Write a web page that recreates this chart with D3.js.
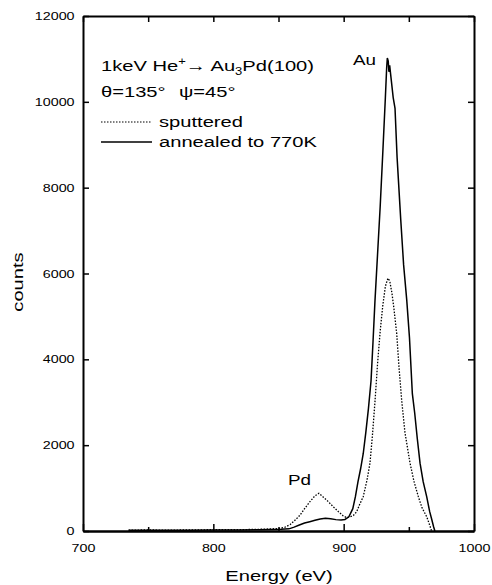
<!DOCTYPE html>
<html>
<head>
<meta charset="utf-8">
<script src="https://cdnjs.cloudflare.com/ajax/libs/d3/7.8.5/d3.min.js"></script>
<style>
  body { margin: 0; background: #fff; }
  svg { font-family: "Liberation Sans", Arial, sans-serif; }
  .axis path, .axis line { stroke: #000; }
  .axis path { stroke-width: 2; }
  .axis line { stroke-width: 1.5; }
  .axis text { font-size: 11px; fill: #000; }
</style>
</head>
<body>
<svg width="492" height="585"></svg>
<script>
// energy (eV) / counts
var annealedE = [735, 750, 765, 780, 800, 820, 835, 845, 852, 858, 862, 866, 870, 874, 878, 882, 886, 890, 894, 898, 901, 904, 907, 909, 911, 913, 915, 917, 919, 921, 922.5, 924, 926, 928, 930, 932, 933, 933.5, 934.2, 934.7, 935.3, 936, 938, 939.4, 941, 943.8, 946, 948.4, 950.5, 952.7, 954.5, 956.5, 958.6, 961, 963.7, 966, 967.5, 969, 970];
var annealedC = [15, 20, 15, 20, 25, 25, 30, 35, 40, 50, 90, 140, 185, 217, 250, 280, 296, 285, 265, 258, 270, 330, 520, 800, 1150, 1450, 1800, 2300, 2850, 3500, 4400, 5350, 6450, 7550, 8800, 10100, 10800, 11020, 10950, 10700, 10850, 10650, 10100, 9850, 8700, 7250, 6200, 5380, 4500, 3200, 2750, 2150, 1580, 1150, 800, 450, 280, 100, 0];

var sputteredE = [735, 750, 765, 780, 800, 820, 835, 845, 851, 855, 859, 863, 866.5, 870, 874, 878, 881, 884, 888, 892, 896, 899.7, 902, 905, 907.4, 910, 912, 915, 918, 920.2, 922, 924, 926, 928, 930, 932, 933.5, 934.3, 935.5, 937, 938.5, 940.7, 942.5, 944.5, 947, 950.9, 954, 957.3, 960, 963.7, 965.5, 967.5];
var sputteredC = [20, 25, 20, 25, 30, 30, 40, 50, 60, 90, 150, 260, 370, 520, 680, 820, 878, 800, 690, 566, 450, 350, 315, 330, 360, 450, 600, 800, 1200, 1584, 2200, 3000, 3900, 4650, 5250, 5700, 5850, 5890, 5800, 5550, 5200, 4600, 3800, 3050, 2300, 1584, 1150, 800, 550, 333, 180, 0];

var xTicks = [700, 800, 900, 1000];
var xMinor = [750, 850, 950];
var yTicks = [0, 2000, 4000, 6000, 8000, 10000, 12000];

var svg = d3.select("svg");
var mLeft = 83, mRight = 474, mTop = 16, mBottom = 531;
var stretch = 1.3; // the original lettering is wide

var x = d3.scaleLinear().domain([700, 1000]).range([mLeft, mRight]);
var y = d3.scaleLinear().domain([0, 12000]).range([mBottom, mTop]);

function wide(sel) {
    sel.selectAll(".tick text").attr("transform", "scale(" + stretch + ",1)");
}

// axes, ticks pointing inward
svg.append("g").attr("class", "axis")
    .attr("transform", "translate(0," + mBottom + ")")
    .call(d3.axisBottom(x).tickValues(xTicks).tickFormat(d3.format("d")).tickSizeInner(-7).tickSizeOuter(0).tickPadding(13))
    .call(wide);
svg.append("g").attr("class", "axis")
    .attr("transform", "translate(0," + mBottom + ")")
    .call(d3.axisBottom(x).tickValues(xMinor).tickFormat("").tickSizeInner(-4).tickSizeOuter(0));
svg.append("g").attr("class", "axis")
    .attr("transform", "translate(0," + mTop + ")")
    .call(d3.axisTop(x).tickValues(xTicks.concat(xMinor)).tickFormat("").tickSizeInner(-6).tickSizeOuter(0));
svg.append("g").attr("class", "axis")
    .attr("transform", "translate(" + mLeft + ",0)")
    .call(d3.axisLeft(y).tickValues(yTicks).tickFormat(d3.format("d")).tickSizeInner(-6).tickSizeOuter(0).tickPadding(6.5))
    .call(wide);
svg.append("g").attr("class", "axis")
    .attr("transform", "translate(" + mRight + ",0)")
    .call(d3.axisRight(y).tickValues(yTicks).tickFormat("").tickSizeInner(-6).tickSizeOuter(0));

// curves
var line = d3.line()
    .x(function(d) { return x(d[0]); })
    .y(function(d) { return y(d[1]); });

svg.append("path")
    .datum(d3.zip(sputteredE, sputteredC))
    .attr("d", line)
    .attr("fill", "none")
    .attr("stroke", "#000")
    .attr("stroke-width", 1.3)
    .attr("stroke-dasharray", "1.5,1.5");

svg.append("path")
    .datum(d3.zip(annealedE, annealedC))
    .attr("d", line)
    .attr("fill", "none")
    .attr("stroke", "#000")
    .attr("stroke-width", 1.5);

// text helper: wide lettering placed at x, y
function label(px, py, size, txt, anchor, rot) {
    var tr = "translate(" + px + "," + py + ")" + (rot ? " rotate(" + rot + ")" : "") + " scale(" + stretch + ",1)";
    return svg.append("text")
        .attr("transform", tr)
        .attr("font-size", size)
        .attr("text-anchor", anchor || "start")
        .text(txt);
}

// title lines
var t1 = label(101, 71, 15.5, "");
t1.append("tspan").text("1keV He");
t1.append("tspan").attr("font-size", 10).attr("dy", -6).text("+");
t1.append("tspan").attr("dy", 6).text("\u2192 Au");
t1.append("tspan").attr("font-size", 10).attr("dy", 4).text("3");
t1.append("tspan").attr("dy", -4).text("Pd(100)");

label(101, 97, 15.5, "\u03b8=135\u00b0");
label(179, 97, 15.5, "\u03c8=45\u00b0");

// legend
svg.append("line").attr("x1", 101).attr("x2", 152).attr("y1", 122).attr("y2", 122)
    .attr("stroke", "#000").attr("stroke-width", 1.2).attr("stroke-dasharray", "1.5,1.5");
label(159, 127, 15.5, "sputtered");
svg.append("line").attr("x1", 101).attr("x2", 152).attr("y1", 142).attr("y2", 142)
    .attr("stroke", "#000").attr("stroke-width", 1.3);
label(159, 147, 15.5, "annealed to 770K");

// peak labels
label(353, 65, 14.5, "Au");
label(288, 485, 14.5, "Pd");

// axis titles
label(279, 581, 15.5, "Energy (eV)", "middle");
label(23, 282, 15.5, "counts", "middle", -90);
</script>
</body>
</html>
